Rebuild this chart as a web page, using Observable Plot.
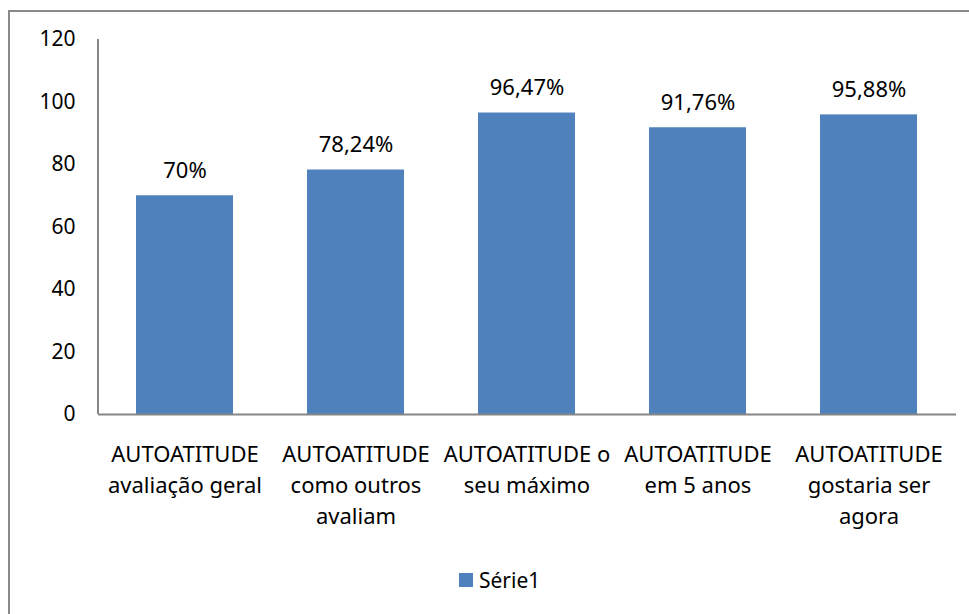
<!DOCTYPE html>
<html>
<head>
<meta charset="utf-8">
<script src="https://cdn.jsdelivr.net/npm/d3@7"></script>
<script src="https://cdn.jsdelivr.net/npm/@observablehq/plot@0.6"></script>
<style>
  html, body { margin: 0; padding: 0; background: #fff; overflow: hidden; }
  #wrap { position: relative; width: 969px; height: 614px; font-family: "Noto Sans", sans-serif; }
  #border { position: absolute; left: 8px; top: 10px; width: 1200px; height: 1200px;
            border-left: 2px solid #8a8a8a; border-top: 2px solid #8a8a8a; pointer-events: none; }
  #legend { position: absolute; left: 459px; top: 566px; display: flex; align-items: center;
            font-size: 21px; color: #000; }
  #legend .sw { width: 14px; height: 14px; background: #4F81BD; margin-right: 6px; }
</style>
</head>
<body>
<div id="wrap">
  <div id="chart"></div>
  <div id="legend"><div class="sw"></div><span id="legtext"></span></div>
  <div id="border"></div>
</div>
<script>
const categories = [
  "AUTOATITUDE avaliação geral",
  "AUTOATITUDE como outros avaliam",
  "AUTOATITUDE o seu máximo",
  "AUTOATITUDE em 5 anos",
  "AUTOATITUDE gostaria ser agora"
];
const tickLabels = [
  "AUTOATITUDE\navaliação geral",
  "AUTOATITUDE\ncomo outros\navaliam",
  "AUTOATITUDE o\nseu máximo",
  "AUTOATITUDE\nem 5 anos",
  "AUTOATITUDE\ngostaria ser\nagora"
];
const values = [70, 78.24, 96.47, 91.76, 95.88];
const valueLabels = ["70%", "78,24%", "96,47%", "91,76%", "95,88%"];
const yTicks = [0, 20, 40, 60, 80, 100, 120];
const seriesName = "Série1";

const data = categories.map((c, i) => ({cat: c, value: values[i], label: valueLabels[i]}));
const tickMap = new Map(categories.map((c, i) => [c, tickLabels[i]]));

const chart = Plot.plot({
  width: 969,
  height: 540,
  marginLeft: 98,
  marginRight: 13,
  marginTop: 39,
  marginBottom: 126,
  style: { fontFamily: "Noto Sans, sans-serif", fontSize: "21px", color: "#000", background: "transparent" },
  x: { type: "band", domain: categories, paddingInner: 0.43, paddingOuter: 0.215, label: null },
  y: { domain: [0, 120], label: null },
  marks: [
    Plot.barY(data, { x: "cat", y: "value", fill: "#4F81BD" }),
    Plot.text(data, { x: "cat", y: "value", text: "label", lineAnchor: "bottom", dy: -18, fill: "#000", fontSize: 22 }),
    Plot.ruleY([0], { stroke: "#868686", strokeWidth: 2 }),
    Plot.axisY({ ticks: yTicks, tickSize: 0, tickPadding: 23, label: null, fontSize: 21 }),
    Plot.axisX({ tickSize: 0, tickPadding: 26, label: null, lineAnchor: "top", lineHeight: 1.4,
                 tickFormat: d => tickMap.get(d), fontSize: 22 })
  ]
});

const xr = chart.scale("x").range;
const yr = chart.scale("y").range;
d3.select(chart).append("line")
  .attr("x1", xr[0]).attr("x2", xr[0])
  .attr("y1", yr[0]).attr("y2", yr[1])
  .attr("stroke", "#868686").attr("stroke-width", 2);

document.getElementById("chart").appendChild(chart);
document.getElementById("legtext").textContent = seriesName;
</script>
</body>
</html>
